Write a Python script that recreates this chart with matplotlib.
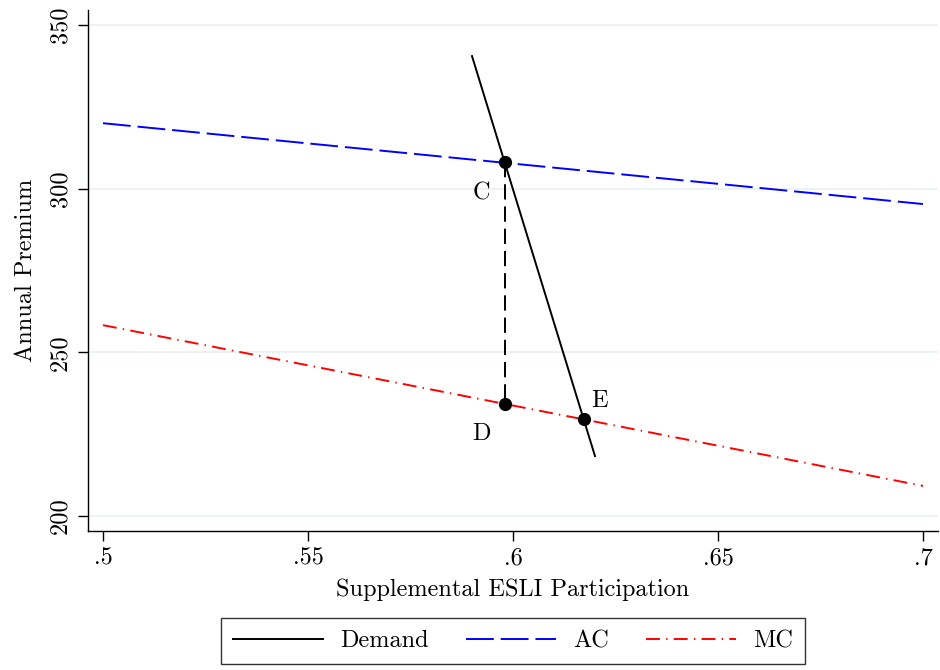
import matplotlib
matplotlib.use("Agg")
import matplotlib.pyplot as plt

plt.rcParams["font.family"] = ["cmr10", "DejaVu Serif"]
plt.rcParams["axes.formatter.use_mathtext"] = True
plt.rcParams["lines.scale_dashes"] = False

# values
demand_x = [0.590, 0.620]
demand_y = [340.5, 218.3]
ac_x = [0.50, 0.70]
ac_y = [320.0, 295.3]
mc_x = [0.50, 0.70]
mc_y = [258.3, 209.2]

pt_names = ["C", "D", "E"]
pt_x = [0.598, 0.598, 0.6173]
pt_y = [308.0, 234.2, 229.6]
lab_x = [0.5923, 0.5923, 0.6212]
lab_y = [298.5, 225.0, 235.0]

xticks = [0.5, 0.55, 0.6, 0.65, 0.7]
xtick_labels = [".5", ".55", ".6", ".65", ".7"]
yticks = [200, 250, 300, 350]

fs = 17.5

fig = plt.figure(figsize=(9.4, 6.7), dpi=100)
ax = fig.add_axes([88 / 940, 139 / 670, 850 / 940, 521 / 670])

ax.set_xlim(0.49634, 0.70366)
ax.set_ylim(195.42, 354.58)

for yv in yticks:
    ax.axhline(yv, color="#eaf2f3", lw=1.3, zorder=0)

ax.plot(demand_x, demand_y, color="black", lw=1.4, label="Demand", zorder=3)
ax.plot(ac_x, ac_y, color="#0000ff", lw=1.4, dashes=(20, 5), label="AC", zorder=2)
ax.plot(mc_x, mc_y, color="#ff0000", lw=1.4, dashes=(10, 4.5, 1, 4.5), label="MC", zorder=2)

# vertical gap between C and D
ax.plot([pt_x[0], pt_x[1]], [pt_y[0], pt_y[1]], color="black", lw=1.4, dashes=(11, 5), zorder=3)

ax.plot(pt_x, pt_y, "o", color="black", ms=8.5, zorder=4)
for name, tx, ty in zip(pt_names, lab_x, lab_y):
    ax.text(tx, ty, name, fontsize=fs, ha="center", va="center")

ax.set_xticks(xticks)
ax.set_xticklabels(xtick_labels)
ax.set_yticks(yticks)
ax.set_yticklabels([str(v) for v in yticks], rotation=90, va="center")
ax.tick_params(labelsize=fs, length=7, width=1.0, direction="out", pad=5)

for s in ["top", "right"]:
    ax.spines[s].set_visible(False)
for s in ["left", "bottom"]:
    ax.spines[s].set_linewidth(1.0)

ax.set_xlabel("Supplemental ESLI Participation", fontsize=fs, labelpad=6)
ax.set_ylabel("Annual Premium", fontsize=fs, labelpad=9)

leg = fig.legend(loc="center", bbox_to_anchor=(513 / 940, 1 - 641 / 670), ncol=3,
                 fontsize=fs, frameon=True, fancybox=False, edgecolor="black",
                 handlelength=3.7, handletextpad=0.7, columnspacing=1.55,
                 borderpad=0.5, borderaxespad=0)
leg.get_frame().set_linewidth(1.0)

fig.savefig("out.png", dpi=100, facecolor="white")
